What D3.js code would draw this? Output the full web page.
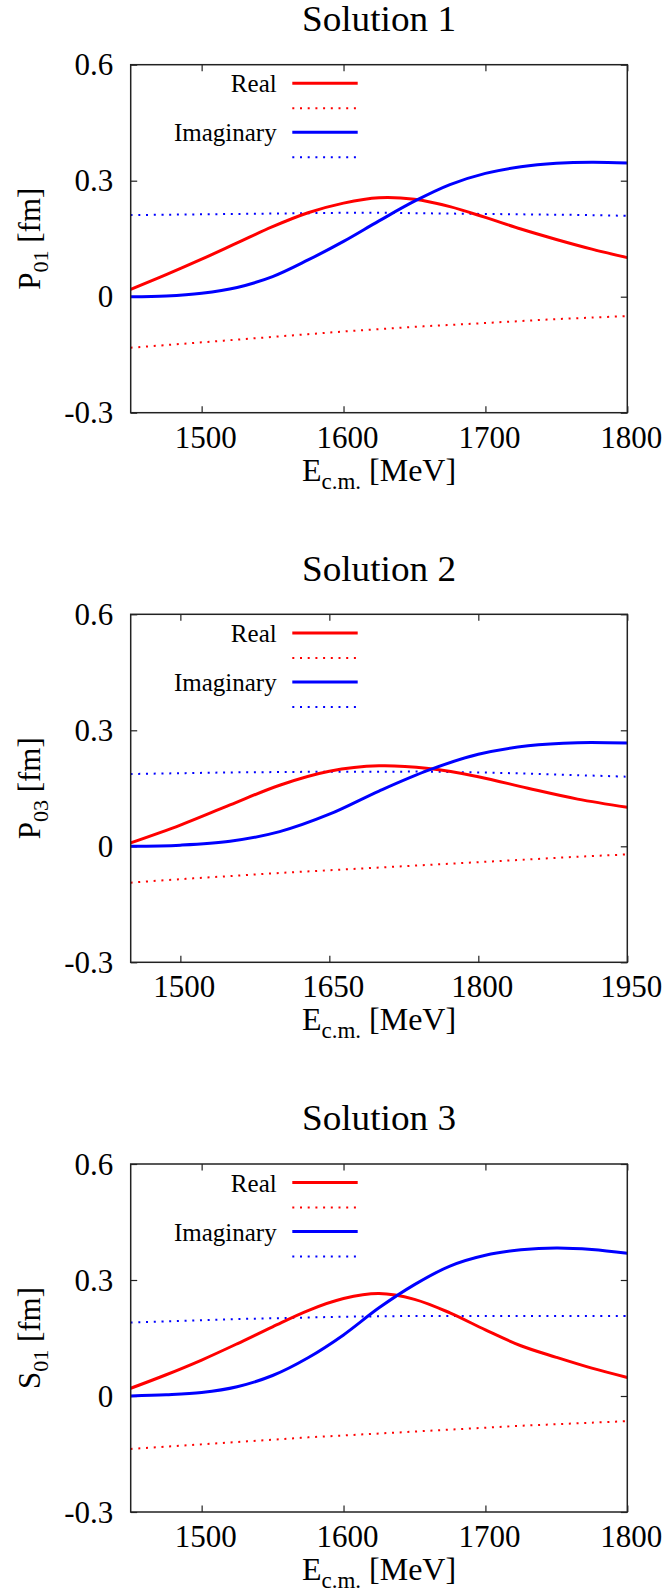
<!DOCTYPE html>
<html>
<head>
<meta charset="utf-8">
<script src="https://cdn.jsdelivr.net/npm/d3@7"></script>
<style>
    body { margin: 0; background: #fff; }
</style>
</head>
<body>
<div id="vis"></div>
<script>
// values
var yTicks = [-0.3, 0, 0.3, 0.6];
var yTickLabels = ["-0.3", "0", "0.3", "0.6"];

// Solution 1 (P01)
var sol1Energy = [1450, 1475, 1500, 1525, 1550, 1575, 1600, 1625, 1650, 1675, 1700, 1725, 1750, 1775, 1800];
var sol1Real = [0.019, 0.057, 0.097, 0.139, 0.181, 0.217, 0.242, 0.256, 0.252, 0.233, 0.205, 0.175, 0.148, 0.123, 0.101];
var sol1Imag = [0.0, 0.002, 0.009, 0.024, 0.052, 0.095, 0.143, 0.196, 0.247, 0.290, 0.319, 0.336, 0.345, 0.348, 0.346];
var sol1RealBg = [-0.132, -0.125, -0.118, -0.111, -0.104, -0.097, -0.090, -0.084, -0.078, -0.073, -0.068, -0.063, -0.058, -0.054, -0.050];
var sol1ImagBg = [0.211, 0.212, 0.213, 0.214, 0.215, 0.216, 0.217, 0.217, 0.216, 0.215, 0.214, 0.213, 0.212, 0.211, 0.209];
var sol1XTicks = [1500, 1600, 1700, 1800];

// Solution 2 (P03)
var sol2Energy = [1450, 1500, 1550, 1600, 1650, 1700, 1750, 1800, 1850, 1900, 1950];
var sol2Real = [0.009, 0.055, 0.107, 0.158, 0.194, 0.208, 0.201, 0.180, 0.150, 0.122, 0.101];
var sol2Imag = [0.0, 0.003, 0.013, 0.038, 0.083, 0.143, 0.197, 0.238, 0.260, 0.268, 0.267];
var sol2RealBg = [-0.094, -0.085, -0.077, -0.069, -0.062, -0.055, -0.048, -0.041, -0.034, -0.027, -0.021];
var sol2ImagBg = [0.187, 0.189, 0.191, 0.192, 0.193, 0.193, 0.193, 0.191, 0.188, 0.184, 0.180];
var sol2XTicks = [1500, 1650, 1800, 1950];

// Solution 3 (S01)
var sol3Energy = [1450, 1475, 1500, 1525, 1550, 1575, 1600, 1625, 1650, 1675, 1700, 1725, 1750, 1775, 1800];
var sol3Real = [0.020, 0.055, 0.093, 0.135, 0.179, 0.221, 0.252, 0.265, 0.250, 0.215, 0.171, 0.130, 0.100, 0.072, 0.048];
var sol3Imag = [0.0, 0.003, 0.009, 0.024, 0.053, 0.099, 0.158, 0.228, 0.288, 0.336, 0.364, 0.378, 0.383, 0.379, 0.369];
var sol3RealBg = [-0.137, -0.131, -0.125, -0.119, -0.113, -0.107, -0.102, -0.097, -0.092, -0.087, -0.082, -0.077, -0.073, -0.069, -0.065];
var sol3ImagBg = [0.190, 0.193, 0.196, 0.199, 0.201, 0.203, 0.205, 0.206, 0.207, 0.207, 0.207, 0.207, 0.207, 0.207, 0.207];
var sol3XTicks = [1500, 1600, 1700, 1800];

var panels = [
    { title: "Solution 1", wave: "P", sub: "01", domain: [1450, 1800], ticks: sol1XTicks, e: sol1Energy, real: sol1Real, imag: sol1Imag, realBg: sol1RealBg, imagBg: sol1ImagBg },
    { title: "Solution 2", wave: "P", sub: "03", domain: [1450, 1950], ticks: sol2XTicks, e: sol2Energy, real: sol2Real, imag: sol2Imag, realBg: sol2RealBg, imagBg: sol2ImagBg },
    { title: "Solution 3", wave: "S", sub: "01", domain: [1450, 1800], ticks: sol3XTicks, e: sol3Energy, real: sol3Real, imag: sol3Imag, realBg: sol3RealBg, imagBg: sol3ImagBg }
];

var serif = "'Liberation Serif', 'Times New Roman', Times, 'DejaVu Serif', serif";
var width = 666,
    height = 1595;
var left = 130.7, right = 627.3;
var plotH = 348;
var panelTop = [64.7, 614.3, 1164];
var tickLen = 6.5;

var svg = d3.select("#vis")
    .append("svg")
    .attr("width", width)
    .attr("height", height)
    .attr("font-family", serif)
    .style("font-family", serif);

panels.forEach(function (p, k) {
    var top = panelTop[k];
    var g = svg.append("g")
        .attr("transform", "translate(0," + top + ")");

    var x = d3.scaleLinear().domain(p.domain).range([left, right]);
    var y = d3.scaleLinear().domain([-0.3, 0.6]).range([plotH, 0]);

    // title
    g.append("text")
        .attr("x", (left + right) / 2 - 77)
        .attr("y", -33.7)
        .attr("textLength", 154)
        .attr("lengthAdjust", "spacingAndGlyphs")
        .style("font-family", serif)
        .style("font-size", "35px")
        .text(p.title);

    g.append("clipPath")
        .attr("id", "clip" + k)
        .append("rect")
        .attr("x", left)
        .attr("y", 0)
        .attr("width", right - left)
        .attr("height", plotH);

    // ticks, mirrored on all four sides, pointing in
    var xAxisB = d3.axisBottom(x).tickValues(p.ticks).tickSizeInner(-tickLen).tickSizeOuter(0).tickFormat("");
    var xAxisT = d3.axisTop(x).tickValues(p.ticks).tickSizeInner(-tickLen).tickSizeOuter(0).tickFormat("");
    var yAxisL = d3.axisLeft(y).tickValues(yTicks).tickSizeInner(-tickLen).tickSizeOuter(0).tickFormat("");
    var yAxisR = d3.axisRight(y).tickValues(yTicks).tickSizeInner(-tickLen).tickSizeOuter(0).tickFormat("");

    [g.append("g").attr("transform", "translate(0," + plotH + ")").call(xAxisB),
     g.append("g").call(xAxisT),
     g.append("g").attr("transform", "translate(" + left + ",0)").call(yAxisL),
     g.append("g").attr("transform", "translate(" + right + ",0)").call(yAxisR)].forEach(function (a) {
        a.select(".domain").remove();
        a.selectAll("text").remove();
        a.selectAll("line").attr("stroke", "#222").attr("stroke-width", 1.2);
    });

    // tick labels
    g.selectAll(".xlab")
        .data(p.ticks)
        .enter().append("text")
        .attr("class", "xlab")
        .attr("x", function (d) { return x(d) + 4; })
        .attr("y", plotH + 35)
        .attr("text-anchor", "middle")
        .style("font-family", serif)
        .style("font-size", "31px")
        .text(function (d) { return d; });

    g.selectAll(".ylab")
        .data(yTicks)
        .enter().append("text")
        .attr("class", "ylab")
        .attr("x", left - 17.4)
        .attr("y", function (d) { return y(d) + 10.6; })
        .attr("text-anchor", "end")
        .style("font-family", serif)
        .style("font-size", "31px")
        .text(function (d, i) { return yTickLabels[i]; });

    // axis labels
    var xl = g.append("text")
        .attr("x", (left + right) / 2)
        .attr("y", plotH + 68)
        .attr("text-anchor", "middle")
        .style("font-family", serif)
        .style("font-size", "32px");
    xl.append("tspan").text("E");
    xl.append("tspan").attr("dy", 8).style("font-size", "23px").text("c.m.");
    xl.append("tspan").attr("dy", -8).text(" [MeV]");

    var yl = g.append("text")
        .attr("transform", "translate(39.5," + plotH / 2 + ") rotate(-90)")
        .attr("text-anchor", "middle")
        .style("font-family", serif)
        .style("font-size", "31px");
    yl.append("tspan").text(p.wave);
    yl.append("tspan").attr("dy", 8).style("font-size", "22px").text(p.sub);
    yl.append("tspan").attr("dy", -8).text(" [fm]");

    // curves
    var line = d3.line()
        .x(function (d) { return x(d[0]); })
        .y(function (d) { return y(d[1]); })
        .curve(d3.curveCatmullRom.alpha(0.5));

    var series = [
        { v: p.realBg, color: "#ff0000", dotted: true },
        { v: p.imagBg, color: "#0000ff", dotted: true },
        { v: p.real, color: "#ff0000", dotted: false },
        { v: p.imag, color: "#0000ff", dotted: false }
    ];

    var cg = g.append("g").attr("clip-path", "url(#clip" + k + ")");
    series.forEach(function (s) {
        var pts = p.e.map(function (e, i) { return [e, s.v[i]]; });
        cg.append("path")
            .datum(pts)
            .attr("d", line)
            .attr("fill", "none")
            .attr("stroke", s.color)
            .attr("stroke-width", s.dotted ? 2 : 3)
            .attr("stroke-dasharray", s.dotted ? "2,5.7" : null);
    });

    // legend
    var legend = [
        { label: "Real", color: "#ff0000", dotted: false, dy: 18.6 },
        { label: "", color: "#ff0000", dotted: true, dy: 43.6 },
        { label: "Imaginary", color: "#0000ff", dotted: false, dy: 67.6 },
        { label: "", color: "#0000ff", dotted: true, dy: 92.6 }
    ];
    var lg = g.selectAll(".legend")
        .data(legend)
        .enter().append("g")
        .attr("class", "legend")
        .attr("transform", function (d) { return "translate(0," + d.dy + ")"; });
    lg.append("text")
        .attr("x", 276.7)
        .attr("y", 9)
        .attr("text-anchor", "end")
        .style("font-family", serif)
        .style("font-size", "25px")
        .text(function (d) { return d.label; });
    lg.append("line")
        .attr("x1", 292.3)
        .attr("x2", 357.7)
        .attr("stroke", function (d) { return d.color; })
        .attr("stroke-width", function (d) { return d.dotted ? 2 : 3; })
        .attr("stroke-dasharray", function (d) { return d.dotted ? "2,5.7" : null; });

    // frame
    g.append("rect")
        .attr("x", left)
        .attr("y", 0)
        .attr("width", right - left)
        .attr("height", plotH)
        .attr("fill", "none")
        .attr("stroke", "#222")
        .attr("stroke-width", 1.5);
});
</script>
</body>
</html>
